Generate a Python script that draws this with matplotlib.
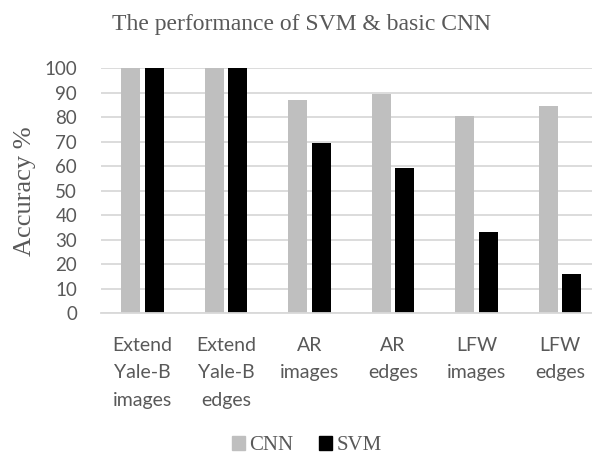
import matplotlib
matplotlib.use("Agg")
import matplotlib.pyplot as plt
import numpy as np
from matplotlib.patches import Patch

categories = ["Extend\nYale-B\nimages", "Extend\nYale-B\nedges", "AR\nimages",
              "AR\nedges", "LFW\nimages", "LFW\nedges"]
cnn = [100, 100, 87, 89.5, 80.5, 84.5]
svm = [100, 100, 69.5, 59.5, 33, 16]
yticks = list(range(0, 101, 10))

TEXT = "#595959"
GRID = "#D9D9D9"
C_CNN = "#BFBFBF"
C_SVM = "#000000"
SERIF = "Liberation Serif"
SANS = "Lato"

fig = plt.figure(figsize=(5.92, 4.59), dpi=100)
ax = fig.add_axes([0.1702, 0.3174, 0.8463, 0.5338])

x = np.arange(len(categories))
w = 0.225
off = 0.142
ax.bar(x - off, cnn, w, color=C_CNN, zorder=3)
ax.bar(x + off, svm, w, color=C_SVM, zorder=3)

ax.set_xlim(-0.5, 5.5)
ax.set_ylim(0, 100)
ax.set_yticks(yticks)
ax.set_yticklabels([str(v) for v in yticks], fontfamily=SANS, fontsize=13.5, color=TEXT)
ax.yaxis.grid(True, color=GRID, linewidth=1.3, zorder=0)
ax.set_axisbelow(True)
ax.tick_params(axis="y", length=0, pad=17)
ax.tick_params(axis="x", length=0, pad=17)
ax.set_xticks(x)
ax.set_xticklabels(categories, fontfamily=SANS, fontsize=14, color=TEXT, linespacing=1.75)
for s in ["top", "right", "left"]:
    ax.spines[s].set_visible(False)
ax.spines["bottom"].set_color(GRID)
ax.spines["bottom"].set_linewidth(1.3)
ax.spines["bottom"].set_zorder(4)

ax.set_ylabel("Accuracy %", fontfamily=SERIF, fontsize=19, color=TEXT)
ax.yaxis.set_label_coords(-0.129, 0.5)

fig.text(0.509, 0.947, "The performance of SVM & basic CNN", ha="center", va="center",
         fontfamily=SERIF, fontsize=17, color=TEXT)

handles = [Patch(color=C_CNN, label="CNN"), Patch(color=C_SVM, label="SVM")]
fig.legend(handles=handles, loc="center", bbox_to_anchor=(0.518, 0.03), ncol=2, frameon=False,
           prop={"family": SERIF, "size": 15}, labelcolor=TEXT, handlelength=0.65,
           handleheight=0.65, handletextpad=0.2, columnspacing=1.2, borderpad=0.1)

fig.savefig("out.png", dpi=100)
